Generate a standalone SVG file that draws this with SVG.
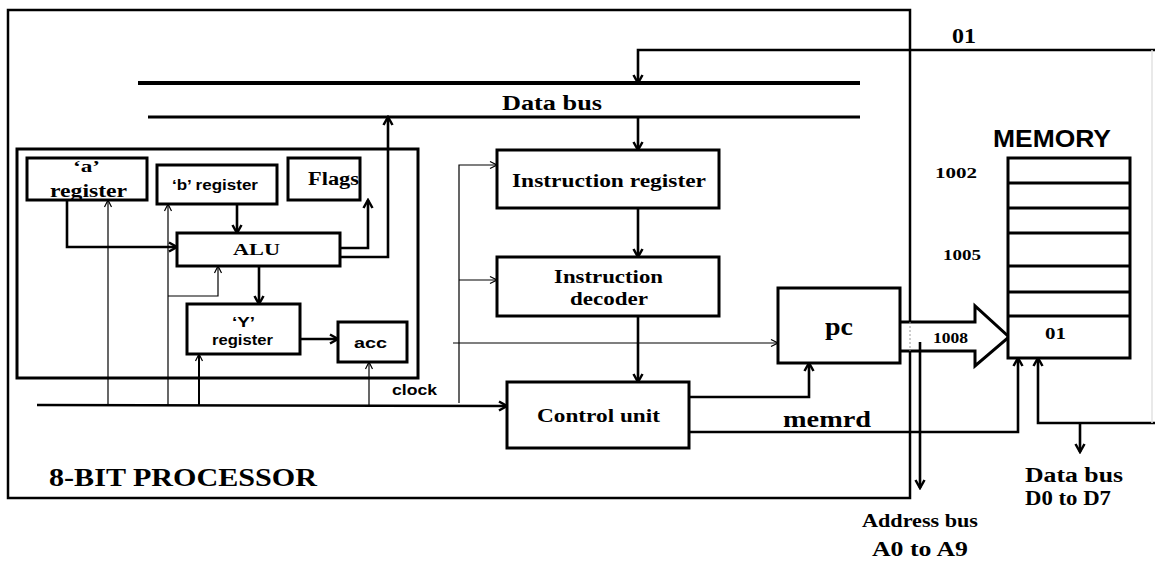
<svg xmlns="http://www.w3.org/2000/svg" width="1155" height="567" viewBox="0 0 1155 567">
<defs>
<style>
.box{fill:#fff;stroke:#000;stroke-width:3}
.ln{fill:none;stroke:#000;stroke-width:2.6}
.tn{fill:none;stroke:#000;stroke-width:1.2}
.sf{font-family:"Liberation Serif","Times New Roman",serif;font-weight:bold;fill:#000}
.ss{font-family:"Liberation Sans",Arial,sans-serif;font-weight:bold;fill:#000}
</style>
<marker id="ah" markerUnits="userSpaceOnUse" viewBox="0 0 12 12" markerWidth="12" markerHeight="12" refX="10" refY="6" orient="auto"><path d="M2,1.5 L10,6 L2,10.5" fill="none" stroke="#000" stroke-width="2.5"/></marker>
<marker id="at" markerUnits="userSpaceOnUse" viewBox="0 0 10 10" markerWidth="10" markerHeight="10" refX="9" refY="5" orient="auto"><path d="M2,1.5 L9,5 L2,8.5" fill="none" stroke="#000" stroke-width="1.2"/></marker>
</defs>
<rect x="0" y="0" width="1155" height="567" fill="#fff"/>

<g id="processor">
<rect x="8" y="10" width="902" height="488" fill="none" stroke="#000" stroke-width="2.5"/>
<text class="sf" x="49" y="486" font-size="25" textLength="268" lengthAdjust="spacingAndGlyphs">8-BIT PROCESSOR</text>
</g>

<g id="data-bus">
<line x1="138" y1="83" x2="860" y2="83" stroke="#000" stroke-width="4"/>
<line x1="148" y1="117" x2="860" y2="117" stroke="#000" stroke-width="3"/>
<text class="sf" x="502" y="110" font-size="20" textLength="100" lengthAdjust="spacingAndGlyphs">Data bus</text>
</g>

<g id="alu-block">
<rect x="17" y="149" width="401" height="229" fill="none" stroke="#000" stroke-width="3"/>
</g>

<g id="connectors">
<path class="ln" d="M1155,50 L638,50 L638,83" marker-end="url(#ah)"/>
<path class="ln" d="M638,117 L638,150" marker-end="url(#ah)"/>
<path class="ln" d="M638,208 L638,257" marker-end="url(#ah)"/>
<path class="ln" d="M638,316 L638,382" marker-end="url(#ah)"/>
<path class="tn" d="M453,343 L778,343" marker-end="url(#at)"/>
<path class="tn" d="M459,403 L459,165 L497,165" marker-end="url(#at)"/>
<path class="tn" d="M459,280 L497,280" marker-end="url(#at)"/>
<path class="ln" d="M37,405 L507,406" marker-end="url(#ah)"/>
<path class="ln" d="M689,397 L809,397 L809,363" marker-end="url(#ah)"/>
<path class="ln" d="M689,432 L1018,432 L1018,358" marker-end="url(#ah)"/>
<path class="ln" d="M1155,423 L1038,423 L1038,358" marker-end="url(#ah)"/>
<path class="ln" d="M1080,423 L1080,452" marker-end="url(#ah)"/>
<path d="M1152,50 L1152,423" fill="none" stroke="#e2e2e2" stroke-width="1.5"/>
<path class="ln" d="M67,200 L67,247 L177,247" marker-end="url(#ah)"/>
<path class="ln" d="M237,204 L237,233" marker-end="url(#ah)"/>
<path class="ln" d="M340,248 L368,248 L368,200" marker-end="url(#ah)"/>
<path class="ln" d="M340,257 L388,257 L388,117" marker-end="url(#ah)"/>
<path class="ln" d="M259,266 L259,304" marker-end="url(#ah)"/>
<path class="ln" d="M300,339 L338,339" marker-end="url(#ah)"/>
<path class="tn" d="M108,405 L108,200" marker-end="url(#at)"/>
<path class="tn" d="M168,405 L168,204" marker-end="url(#at)"/>
<path class="tn" d="M168,296 L218,296 L218,266" marker-end="url(#at)"/>
<path d="M199,405 L199,354" fill="none" stroke="#000" stroke-width="2" marker-end="url(#at)"/>
<path class="tn" d="M369,405 L369,362" marker-end="url(#at)"/>
<polygon points="898,322 975,322 975,306 1009,337 975,366 975,351 898,351" fill="#fff" stroke="#000" stroke-width="3"/>
<path d="M910,322 L910,351" fill="none" stroke="#999" stroke-width="1" stroke-dasharray="2,2"/>
<path class="ln" d="M920,342 L920,488" marker-end="url(#ah)"/>
<text class="ss" x="392" y="395" font-size="15" textLength="45" lengthAdjust="spacingAndGlyphs">clock</text>
<text class="sf" x="783" y="427" font-size="24" textLength="88" lengthAdjust="spacingAndGlyphs">memrd</text>
<text class="sf" x="952" y="43" font-size="20" textLength="24" lengthAdjust="spacingAndGlyphs">01</text>
<text class="sf" x="933" y="343" font-size="14" textLength="35" lengthAdjust="spacingAndGlyphs">1008</text>
<text class="sf" x="1025" y="482" font-size="20" textLength="98" lengthAdjust="spacingAndGlyphs">Data bus</text>
<text class="sf" x="1025" y="505" font-size="20" textLength="86" lengthAdjust="spacingAndGlyphs">D0 to D7</text>
<text class="sf" x="862" y="527" font-size="18" textLength="116" lengthAdjust="spacingAndGlyphs">Address bus</text>
<text class="sf" x="872" y="556" font-size="20" textLength="96" lengthAdjust="spacingAndGlyphs">A0 to A9</text>
</g>

<g id="a-register">
<rect class="box" x="27" y="158" width="120" height="42"/>
<text class="sf" x="73" y="172" font-size="17" textLength="27" lengthAdjust="spacingAndGlyphs">‘a’</text>
<text class="sf" x="50" y="197" font-size="19" textLength="77" lengthAdjust="spacingAndGlyphs">register</text>
</g>
<g id="b-register">
<rect class="box" x="157" y="165" width="120" height="39"/>
<text class="ss" x="172" y="190" font-size="15" textLength="86" lengthAdjust="spacingAndGlyphs">‘b’ register</text>
</g>
<g id="flags">
<rect class="box" x="288" y="158" width="72" height="42"/>
<text class="sf" x="308" y="185" font-size="18" textLength="51" lengthAdjust="spacingAndGlyphs">Flags</text>
</g>
<g id="alu">
<rect class="box" x="177" y="233" width="163" height="33"/>
<text class="sf" x="233" y="255" font-size="17" textLength="47" lengthAdjust="spacingAndGlyphs">ALU</text>
</g>
<g id="y-register">
<rect class="box" x="187" y="304" width="113" height="50"/>
<text class="ss" x="232" y="327" font-size="15" textLength="23" lengthAdjust="spacingAndGlyphs">‘Y’</text>
<text class="ss" x="212" y="345" font-size="15" textLength="61" lengthAdjust="spacingAndGlyphs">register</text>
</g>
<g id="acc">
<rect class="box" x="338" y="322" width="69" height="40"/>
<text class="ss" x="354" y="348" font-size="15" textLength="33" lengthAdjust="spacingAndGlyphs">acc</text>
</g>
<g id="instruction-register">
<rect class="box" x="497" y="150" width="222" height="58"/>
<text class="sf" x="512" y="187" font-size="19" textLength="194" lengthAdjust="spacingAndGlyphs">Instruction register</text>
</g>
<g id="instruction-decoder">
<rect class="box" x="497" y="257" width="222" height="59"/>
<text class="sf" x="554" y="283" font-size="19" textLength="109" lengthAdjust="spacingAndGlyphs">Instruction</text>
<text class="sf" x="570" y="305" font-size="19" textLength="78" lengthAdjust="spacingAndGlyphs">decoder</text>
</g>
<g id="control-unit">
<rect class="box" x="507" y="382" width="182" height="66"/>
<text class="sf" x="537" y="422" font-size="19" textLength="123" lengthAdjust="spacingAndGlyphs">Control unit</text>
</g>
<g id="pc">
<rect class="box" x="778" y="288" width="122" height="75"/>
<text class="sf" x="825" y="335" font-size="26" textLength="28" lengthAdjust="spacingAndGlyphs">pc</text>
</g>
<g id="memory">
<text class="ss" x="993" y="147" font-size="23" textLength="118" lengthAdjust="spacingAndGlyphs">MEMORY</text>
<rect class="box" x="1008" y="158" width="122" height="200"/>
<path d="M1008,183 H1130 M1008,208 H1130 M1008,233 H1130 M1008,266 H1130 M1008,292 H1130 M1008,316 H1130" fill="none" stroke="#000" stroke-width="3"/>
<text class="sf" x="1045" y="339" font-size="16" textLength="21" lengthAdjust="spacingAndGlyphs">01</text>
<text class="sf" x="935" y="178" font-size="15" textLength="42" lengthAdjust="spacingAndGlyphs">1002</text>
<text class="sf" x="943" y="260" font-size="15" textLength="38" lengthAdjust="spacingAndGlyphs">1005</text>
</g>
</svg>
